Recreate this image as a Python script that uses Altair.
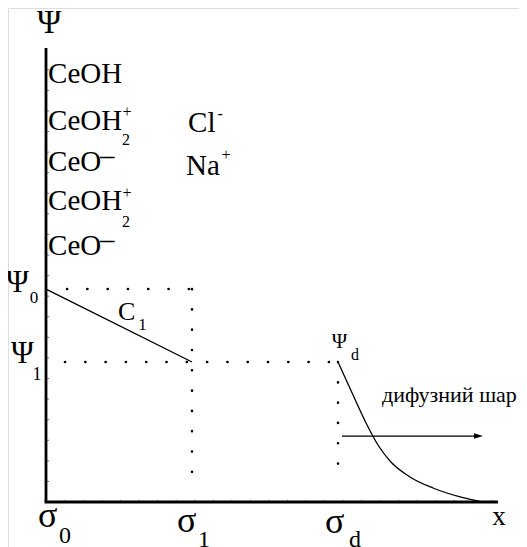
import altair as alt
import pandas as pd

W, H = 511, 539
# x in units of the sigma-plane spacing, y (psi) in units of psi_1
X_DOMAIN = [-38 / 146, (W - 38) / 146]
Y_DOMAIN = [(494 - H) / 140, 494 / 140]
FONT = "Liberation Serif"

# ---- data -------------------------------------------------------------
psi0 = 1.521
psi1 = 1.0
sigma_x = [0.0, 1.0, 2.0]
axis_x_end = 3.096
axis_y_top = 3.243

# diffuse-layer potential curve
curve_x = [2.0, 2.103, 2.199, 2.274, 2.356, 2.493, 2.651, 2.836, 2.986]
curve_y = [1.0, 0.764, 0.55, 0.407, 0.293, 0.179, 0.1, 0.036, 0.0]

# minor ticks
y_ticks = [round(0.147 * k, 3) for k in range(1, 22)]
x_ticks = [round(0.13 + 0.127 * k, 3) for k in range(0, 24)]

# labels (left aligned)
left_text = ["CeOH", "CeOH", "CeO", "CeOH", "CeO", "–", "–", "Cl", "Na",
             "C", "σ", "σ", "σ", "дифузний шар"]
left_x = [0.014, 0.014, 0.014, 0.014, 0.014, 0.37, 0.37, 0.973, 0.959,
          0.493, -0.055, 0.897, 1.911, 2.301]
left_y = [2.993, 2.657, 2.364, 2.086, 1.764, 2.41, 1.81, 2.643, 2.336,
          1.3, -0.179, -0.214, -0.221, 0.714]
left_size = [29, 29, 29, 29, 29, 29, 29, 29, 29,
             26, 36, 36, 36, 22]

# labels (centered)
center_text = ["Ψ", "+", "2", "+", "2", "-", "+",
               "Ψ", "0", "Ψ", "1", "1", "Ψ", "d",
               "0", "1", "d", "x"]
center_x = [0.021, 0.555, 0.548, 0.555, 0.548, 1.192, 1.233,
            -0.195, -0.082, -0.161, -0.062, 0.661, 2.010, 2.116,
            0.130, 1.082, 2.116, 3.103]
center_y = [3.35, 2.75, 2.55, 2.171, 1.964, 2.736, 2.446,
            1.5, 1.421, 0.993, 0.871, 1.229, 1.1, 1.014,
            -0.293, -0.321, -0.321, -0.164]
center_size = [33, 16, 16, 16, 16, 16, 16,
               31, 17, 31, 18, 17, 21, 16,
               24, 24, 24, 27]

# ---- helpers ------------------------------------------------------------
xs = alt.Scale(domain=X_DOMAIN, nice=False, zero=False)
ys = alt.Scale(domain=Y_DOMAIN, nice=False, zero=False)


def X(f="x"):
    return alt.X(f"{f}:Q", scale=xs, axis=None)


def Y(f="y"):
    return alt.Y(f"{f}:Q", scale=ys, axis=None)


# axes lines
axes_df = pd.DataFrame({
    "x": [0.0, -0.01], "x2": [0.0, axis_x_end],
    "y": [0.0, 0.0], "y2": [axis_y_top, 0.0],
})
axes = alt.Chart(axes_df).mark_rule(color="black", strokeWidth=2.8).encode(
    x=X(), x2="x2:Q", y=Y(), y2="y2:Q")

yt_df = pd.DataFrame({"y": y_ticks, "x": [0.0] * len(y_ticks),
                      "x2": [0.022] * len(y_ticks)})
ytk = alt.Chart(yt_df).mark_rule(color="#777", strokeWidth=1).encode(
    x=X(), x2="x2:Q", y=Y())
xt_df = pd.DataFrame({"x": x_ticks, "y": [0.0] * len(x_ticks),
                      "y2": [0.016] * len(x_ticks)})
xtk = alt.Chart(xt_df).mark_rule(color="#999", strokeWidth=1).encode(
    x=X(), y=Y(), y2="y2:Q")

# dotted guide lines (drawn from their start point)
dot_df = pd.DataFrame({
    "x": [0.144, 0.130, sigma_x[1], sigma_x[2]],
    "x2": [sigma_x[1], sigma_x[2], sigma_x[1], sigma_x[2]],
    "y": [psi0, psi1, psi0, psi1],
    "y2": [psi0, psi1, 0.086, 0.136],
})
dots = alt.Chart(dot_df).mark_rule(
    color="black", strokeWidth=2.6, strokeDash=[0.1, 20.2], strokeCap="round"
).encode(x=X(), x2="x2:Q", y=Y(), y2="y2:Q")

# linear drop in the Stern layer
lin_df = pd.DataFrame({"x": [sigma_x[0]], "x2": [sigma_x[1]],
                       "y": [psi0], "y2": [psi1]})
lin = alt.Chart(lin_df).mark_rule(color="black", strokeWidth=1.3).encode(
    x=X(), x2="x2:Q", y=Y(), y2="y2:Q")

curve_df = pd.DataFrame({"x": curve_x, "y": curve_y})
curve = alt.Chart(curve_df).mark_line(
    color="black", strokeWidth=1.3, interpolate="monotone"
).encode(x=X(), y=Y())

# arrow
arrow_df = pd.DataFrame({"x": [2.027], "x2": [2.96], "y": [0.471]})
arrow = alt.Chart(arrow_df).mark_rule(color="black", strokeWidth=1.2).encode(
    x=X(), x2="x2:Q", y=Y())
head_df = pd.DataFrame({"x": [2.993], "y": [0.471]})
head = alt.Chart(head_df).mark_point(
    shape="M0,0 L-1,-0.3 L-1,0.3 Z", filled=True, color="black",
    size=324, opacity=1
).encode(x=X(), y=Y())

# labels
lt_df = pd.DataFrame({"t": left_text, "x": left_x, "y": left_y, "s": left_size})
lt = alt.Chart(lt_df).mark_text(
    align="left", baseline="alphabetic", font=FONT, color="black"
).encode(x=X(), y=Y(), text="t:N", size=alt.Size("s:Q", scale=None))

ct_df = pd.DataFrame({"t": center_text, "x": center_x, "y": center_y,
                      "s": center_size})
ct = alt.Chart(ct_df).mark_text(
    align="center", baseline="alphabetic", font=FONT, color="black"
).encode(x=X(), y=Y(), text="t:N", size=alt.Size("s:Q", scale=None))

chart = alt.layer(ytk, xtk, dots, lin, curve, arrow, head, axes, lt, ct).properties(
    width=W, height=H, padding=0, autosize=alt.AutoSizeParams(type="none")
).configure_view(stroke=None).configure(background="white")

chart.save("out.html", embed_options={"renderer": "svg", "actions": False})
